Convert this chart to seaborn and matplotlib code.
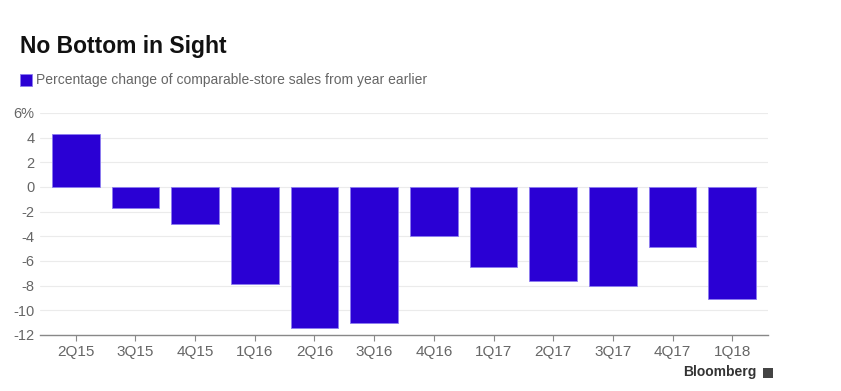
import matplotlib
matplotlib.use("Agg")
import matplotlib.pyplot as plt
import seaborn as sns
import pandas as pd

quarters = ["2Q15", "3Q15", "4Q15", "1Q16", "2Q16", "3Q16", "4Q16", "1Q17", "2Q17", "3Q17", "4Q17", "1Q18"]
values = [4.3, -1.7, -3.0, -7.9, -11.4, -11.0, -4.0, -6.5, -7.6, -8.0, -4.9, -9.1]
yticks = [6, 4, 2, 0, -2, -4, -6, -8, -10, -12]
ytick_labels = ["6%", "4", "2", "0", "-2", "-4", "-6", "-8", "-10", "-12"]

sns.set_theme(style="white")
plt.rcParams["font.family"] = ["Liberation Sans", "DejaVu Sans"]

BAR = "#2a00d4"
GRAY = "#666666"

df = pd.DataFrame({"quarter": quarters, "value": values})

fig = plt.figure(figsize=(8.41, 3.91), dpi=100)
ax = fig.add_axes([40/841, 1 - 335/391, (768-40)/841, (335-113)/391])

sns.barplot(data=df, x="quarter", y="value", color=BAR, saturation=1, width=0.8,
            edgecolor="#8c7cf0", linewidth=0.6, ax=ax, zorder=3)

ax.set_ylim(-12, 6)
ax.set_xlim(-0.6, 11.6)
ax.set_yticks(yticks)
ax.set_yticklabels(ytick_labels)
ax.set_xlabel("")
ax.set_ylabel("")
ax.yaxis.grid(True, color="#ebebeb", linewidth=0.8, zorder=0)
ax.xaxis.grid(False)
for s in ["top", "right", "left"]:
    ax.spines[s].set_visible(False)
ax.spines["bottom"].set_color("#888888")
ax.spines["bottom"].set_linewidth(1.0)
ax.tick_params(axis="y", length=0, labelsize=10.5, labelcolor=GRAY, pad=4)
ax.tick_params(axis="x", length=4, width=0.8, color="#888888", labelsize=11,
               labelcolor=GRAY, bottom=True, pad=3)
for lbl in ax.get_yticklabels():
    lbl.set_horizontalalignment("right")

fig.text(20/841, 1 - 46/391, "No Bottom in Sight", fontsize=16.5, fontweight="bold",
         color="#111111", va="center", ha="left")
fig.patches.append(plt.Rectangle((20/841, 1 - 86/391), 12/841, 12/391,
                                 transform=fig.transFigure, facecolor=BAR,
                                 edgecolor="#8c7cf0", linewidth=0.6))
fig.text(36/841, 1 - 80/391, "Percentage change of comparable-store sales from year earlier",
         fontsize=10, color=GRAY, va="center", ha="left")
fig.text(756/841, 1 - 372/391, "Bloomberg", fontsize=10, fontweight="bold",
         color="#333333", va="center", ha="right")
fig.patches.append(plt.Rectangle((763/841, 1 - 378/391), 10/841, 10/391,
                                 transform=fig.transFigure, facecolor="#444444",
                                 edgecolor="none"))

fig.savefig("out.png", dpi=100)
